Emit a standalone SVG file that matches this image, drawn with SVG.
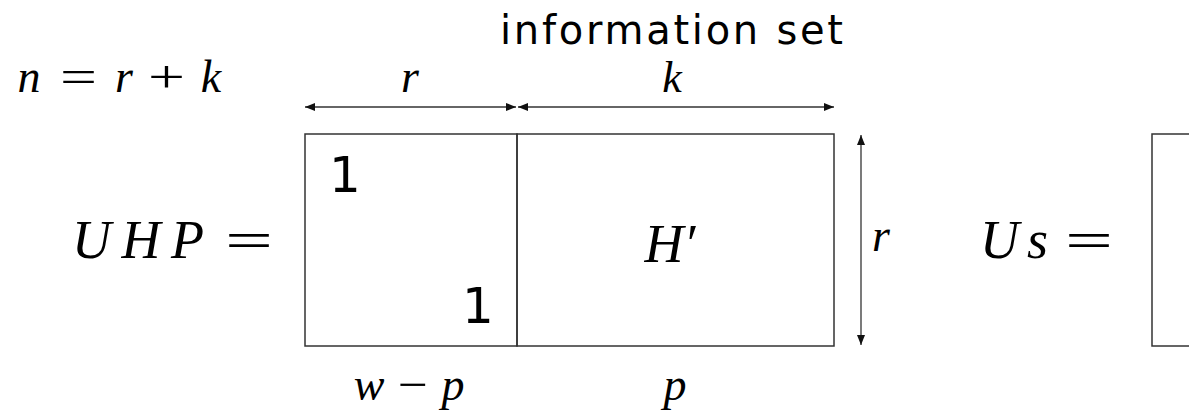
<svg xmlns="http://www.w3.org/2000/svg" width="1189" height="414" viewBox="0 0 1189 414">
<style>
.m{font-family:"Liberation Serif",serif;font-style:italic;fill:#000}
.op{font-family:"Liberation Serif",serif;fill:#000}
.s{font-family:"DejaVu Sans",sans-serif;fill:#000}
.box{fill:none;stroke:#333;stroke-width:1.5}
.ar{fill:none;stroke:#333;stroke-width:1.3}
</style>
<defs>
<marker id="ah" viewBox="0 0 10 8" refX="10" refY="4" markerWidth="10" markerHeight="8" markerUnits="userSpaceOnUse" orient="auto-start-reverse">
<path d="M0,0 L10,4 L0,8 Z" fill="#111"/>
</marker>
</defs>
<rect width="1189" height="414" fill="#fff"/>

<g id="title"><text class="s" x="500" y="44" font-size="40" textLength="343">information set</text></g>

<g id="n-eq">
<text class="m" x="29" y="92" font-size="46" text-anchor="middle">n</text>
<text class="op" x="60" y="92" font-size="46" textLength="37" lengthAdjust="spacingAndGlyphs">=</text>
<text class="m" x="124" y="92" font-size="46" text-anchor="middle">r</text>
<text class="op" x="148" y="92" font-size="46" textLength="37" lengthAdjust="spacingAndGlyphs">+</text>
<text class="m" x="211" y="92" font-size="46" text-anchor="middle">k</text>
</g>

<g id="uhp-label">
<text class="m" x="72" y="258" font-size="54" textLength="132">UHP</text>
<text class="op" x="225" y="258" font-size="52" textLength="48" lengthAdjust="spacingAndGlyphs">=</text>
</g>

<g id="identity-block">
<rect class="box" x="305" y="134" width="212" height="212"/>
<text class="s" x="345" y="192" font-size="50" text-anchor="middle">1</text>
<text class="s" x="478" y="323" font-size="50" text-anchor="middle">1</text>
</g>

<g id="hprime-block">
<rect class="box" x="517" y="134" width="317" height="212"/>
<text class="m" x="670" y="262" font-size="54" text-anchor="middle">H′</text>
</g>

<g id="us-label">
<text class="m" x="980" y="258" font-size="54" textLength="68">Us</text>
<text class="op" x="1065" y="258" font-size="52" textLength="48" lengthAdjust="spacingAndGlyphs">=</text>
</g>

<g id="s-block">
<rect class="box" x="1152" y="134" width="60" height="212"/>
</g>

<g id="connectors">
<line class="ar" x1="305" y1="107" x2="516" y2="107" marker-start="url(#ah)" marker-end="url(#ah)"/>
<line class="ar" x1="518" y1="107" x2="834" y2="107" marker-start="url(#ah)" marker-end="url(#ah)"/>
<line class="ar" x1="861" y1="135" x2="861" y2="345" marker-start="url(#ah)" marker-end="url(#ah)"/>
</g>

<g id="dim-labels">
<text class="m" x="410" y="92" font-size="46" text-anchor="middle">r</text>
<text class="m" x="672" y="92" font-size="44" text-anchor="middle">k</text>
<text class="m" x="881" y="251" font-size="46" text-anchor="middle">r</text>
<text class="m" x="369" y="400" font-size="46" text-anchor="middle">w</text>
<text class="op" x="398" y="400" font-size="46" textLength="30" lengthAdjust="spacingAndGlyphs">−</text>
<text class="m" x="453" y="400" font-size="46" text-anchor="middle">p</text>
<text class="m" x="675" y="400" font-size="46" text-anchor="middle">p</text>
</g>
</svg>
